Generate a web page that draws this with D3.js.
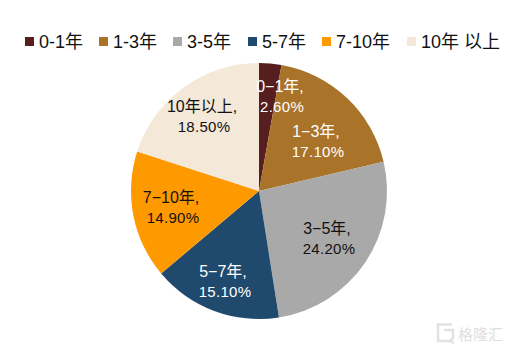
<!DOCTYPE html>
<html>
<head>
<meta charset="utf-8">
<script src="https://cdn.jsdelivr.net/npm/d3@7"></script>
<style>
html, body { margin: 0; padding: 0; background: #fff; }
svg { display: block; }
</style>
</head>
<body>
<div id="chart"></div>
<script>
const categories = ["0-1年", "1-3年", "3-5年", "5-7年", "7-10年", "10年以上"];
const labelNames = ["0-1年,", "1-3年,", "3-5年,", "5-7年,", "7-10年,", "10年以上,"];
const values = [2.6, 17.1, 24.2, 15.1, 14.9, 18.5];
const valueLabels = ["2.60%", "17.10%", "24.20%", "15.10%", "14.90%", "18.50%"];
const colors = ["#561e1e", "#a9742a", "#a9a9a9", "#1f4a6e", "#ff9900", "#f4e8d8"];
const labelColors = ["#fff", "#fff", "#111", "#fff", "#111", "#111"];
const legendX = [25, 99, 173, 248, 322, 407];
// hand placed labels in the original, offsets from the pie centre
const labelDx = [21, 57, 68, -36, -88, -57];
const labelDy = [-99, -54, 43, 86, 12, -79];

const width = 510, height = 351;
const cx = 259, cy = 191, radius = 128;

const svg = d3.select("#chart").append("svg")
    .attr("width", width)
    .attr("height", height);

const pie = d3.pie().sort(null).value(d => d);
const arc = d3.arc().innerRadius(0).outerRadius(radius);

const g = svg.append("g").attr("transform", `translate(${cx},${cy})`);
const arcs = pie(values);

g.selectAll("path")
    .data(arcs)
    .enter()
    .append("path")
    .attr("d", arc)
    .attr("fill", (d, i) => colors[i]);

const labels = g.selectAll("g.lab")
    .data(arcs)
    .enter()
    .append("g")
    .attr("class", "lab")
    .attr("transform", (d, i) => `translate(${labelDx[i]},${labelDy[i]})`)
    .attr("fill", (d, i) => labelColors[i])
    .attr("text-anchor", "middle")
    .style("font-family", "'Liberation Sans', 'Noto Sans CJK SC', sans-serif")
    .style("font-size", "15px");

labels.append("text")
    .style("font-size", "16px")
    .text((d, i) => labelNames[i].replace("-", "\u2212"));

labels.append("text")
    .attr("x", 2)
    .attr("y", 20)
    .style("letter-spacing", "0.3px")
    .text((d, i) => valueLabels[i]);

// legend
const legend = svg.selectAll("g.leg")
    .data(categories)
    .enter()
    .append("g")
    .attr("class", "leg")
    .attr("transform", (d, i) => `translate(${legendX[i]},37)`);

legend.append("rect")
    .attr("width", 9)
    .attr("height", 9)
    .attr("fill", (d, i) => colors[i]);

legend.append("text")
    .attr("x", 14)
    .attr("y", 11)
    .attr("fill", "#111")
    .style("font-family", "'Liberation Sans', 'Noto Sans CJK SC', sans-serif")
    .style("font-size", "18px")
    .text(d => d === "10年以上" ? "10年 以上" : d);

// watermark
const wm = svg.append("g").attr("transform", "translate(436,323)");
wm.append("path")
    .attr("d", "M16,1.5 H2 V18 H13 M8,7 H17 V15 L14,18 L18,20")
    .attr("fill", "none")
    .attr("stroke", "#e2e2e2")
    .attr("stroke-width", 2.5);
wm.append("text")
    .attr("x", 22)
    .attr("y", 17)
    .attr("fill", "#dedede")
    .style("font-family", "'Noto Sans CJK SC', sans-serif")
    .style("font-size", "15px")
    .text("格隆汇");
</script>
</body>
</html>
